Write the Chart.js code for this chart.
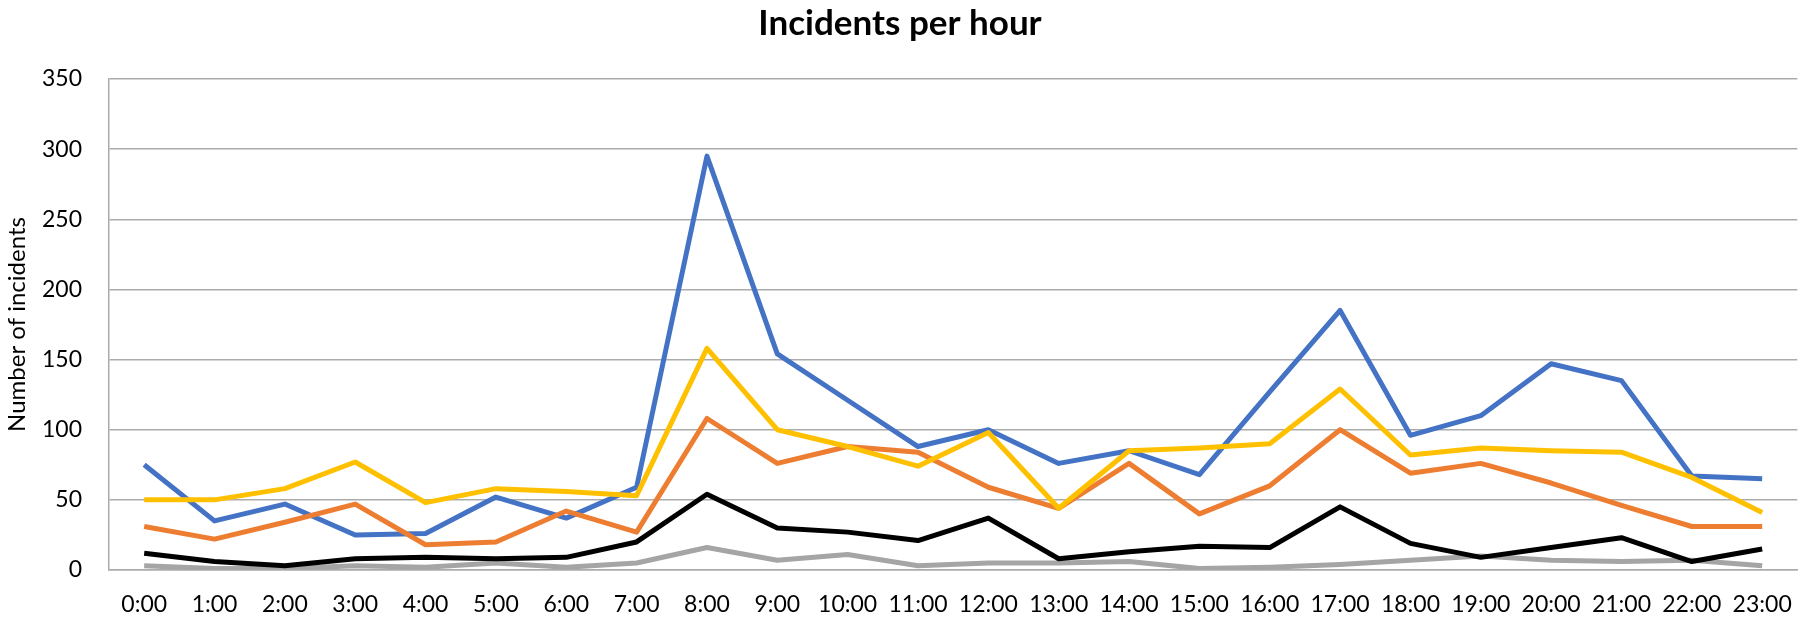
<!DOCTYPE html>
<html>
<head>
<meta charset="utf-8">
<script src="https://cdn.jsdelivr.net/npm/chart.js@4"></script>
<style>
  html, body { margin: 0; padding: 0; background: #fff; }
  #wrap { width: 1813px; height: 619px; }
</style>
</head>
<body>
<div id="wrap"><canvas id="incidents"></canvas></div>
<script>
// x axis categories
const hours = ["0:00","1:00","2:00","3:00","4:00","5:00","6:00","7:00","8:00","9:00","10:00","11:00",
               "12:00","13:00","14:00","15:00","16:00","17:00","18:00","19:00","20:00","21:00","22:00","23:00"];

// series values
const series1 = [75, 35, 47, 25, 26, 52, 37, 59, 295, 154, 121, 88, 100, 76, 85, 68, 127, 185, 96, 110, 147, 135, 67, 65];
const series2 = [31, 22, 34, 47, 18, 20, 42, 27, 108, 76, 88, 84, 59, 44, 76, 40, 60, 100, 69, 76, 62, 46, 31, 31];
const series3 = [3, 1, 1, 3, 2, 5, 2, 5, 16, 7, 11, 3, 5, 5, 6, 1, 2, 4, 7, 10, 7, 6, 7, 3];
const series4 = [50, 50, 58, 77, 48, 58, 56, 53, 158, 100, 88, 74, 98, 44, 85, 87, 90, 129, 82, 87, 85, 84, 66, 41];
const series5 = [12, 6, 3, 8, 9, 8, 9, 20, 54, 30, 27, 21, 37, 8, 13, 17, 16, 45, 19, 9, 16, 23, 6, 15];

// y axis ticks
const yMin = 0, yMax = 350, yStep = 50;

const FONT = "Lato, 'Open Sans', sans-serif";

function line(label, data, color, order) {
    return {
        label: label,
        data: data,
        borderColor: color,
        backgroundColor: color,
        borderWidth: 5,
        borderJoinStyle: 'round',
        pointRadius: 0,
        pointHoverRadius: 0,
        tension: 0,
        fill: false,
        order: order
    };
}

const chart = new Chart(document.getElementById("incidents"), {
    type: 'line',
    data: {
        labels: hours,
        datasets: [
            line("Series 1", series1, "#4472C4", 5),
            line("Series 2", series2, "#ED7D31", 4),
            line("Series 3", series3, "#A5A5A5", 3),
            line("Series 4", series4, "#FFC000", 2),
            line("Series 5", series5, "#000000", 1)
        ]
    },
    options: {
        responsive: true,
        maintainAspectRatio: false,
        animation: false,
        layout: {
            padding: { left: 0, right: 13, top: 0, bottom: 0 }
        },
        plugins: {
            legend: { display: false },
            tooltip: { enabled: false },
            title: {
                display: true,
                text: 'Incidents per hour',
                color: '#000',
                font: { family: FONT, size: 35, weight: 'bold' },
                padding: { top: 3, bottom: 34 }
            }
        },
        scales: {
            x: {
                offset: true,
                grid: { display: false, drawTicks: false },
                border: { display: true, color: '#ABABAB', width: 1.5 },
                ticks: {
                    color: '#000',
                    font: { family: FONT, size: 23 },
                    padding: 21,
                    maxRotation: 0,
                    autoSkip: false
                },
                afterFit: function (scale) { scale.height = 49; }
            },
            y: {
                min: yMin,
                max: yMax,
                grid: { color: '#ABABAB', lineWidth: 1.5, drawTicks: false },
                border: { display: true, color: '#ABABAB', width: 1.5 },
                ticks: {
                    stepSize: yStep,
                    color: '#000',
                    font: { family: FONT, size: 23 },
                    padding: 27
                },
                title: {
                    display: true,
                    text: 'Number of incidents',
                    color: '#000',
                    font: { family: FONT, size: 24 },
                    padding: { top: 3, bottom: 0 }
                },
                afterFit: function (scale) { scale.width = 109; }
            }
        }
    }
});
</script>
</body>
</html>
